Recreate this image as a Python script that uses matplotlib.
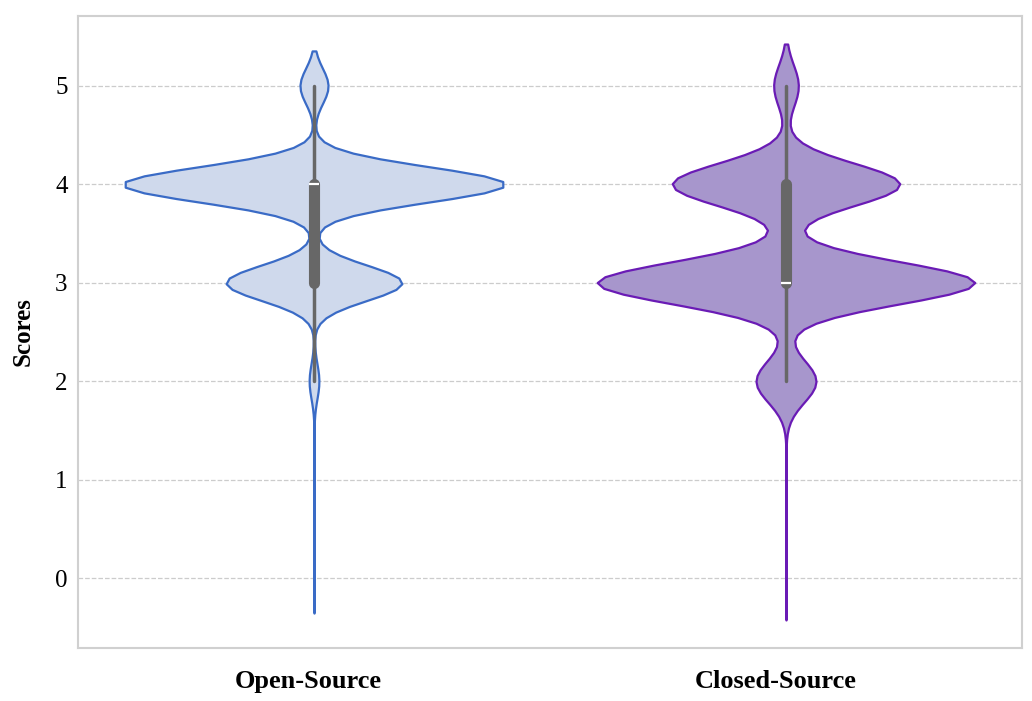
import numpy as np
import pandas as pd
import matplotlib
matplotlib.use("Agg")
import matplotlib.pyplot as plt
import matplotlib.transforms as mtransforms
import seaborn as sns

# ---- data (score counts) ----
categories = ["Open-Source", "Closed-Source"]
score_values = [0, 1, 2, 3, 4, 5]
open_counts = [1, 0, 24, 432, 939, 69]
closed_counts = [1, 0, 102, 642, 387, 42]
y_ticks = [0, 1, 2, 3, 4, 5]

fill_colors = ["#cfd9ec", "#a796cc"]
edge_colors = ["#3a6bc6", "#6a1bb5"]
kde_bandwidths = [0.178, 0.213]

sns.set_theme(style="whitegrid")
plt.rcParams["font.family"] = ["Liberation Serif", "DejaVu Serif"]
plt.rcParams["text.color"] = "black"
plt.rcParams["axes.labelcolor"] = "black"
plt.rcParams["xtick.color"] = "black"
plt.rcParams["ytick.color"] = "black"

fig = plt.figure(figsize=(10.32, 7.01), dpi=100)
ax = fig.add_axes([0.0756, 0.0756, 0.9147, 0.9016])

for cat, counts, fc, ec, bw in zip(categories, [open_counts, closed_counts],
                                   fill_colors, edge_colors, kde_bandwidths):
    vals = np.repeat(score_values, counts).astype(float)
    sub = pd.DataFrame({"Group": cat, "Scores": vals})
    n_before = len(ax.collections)
    sns.violinplot(data=sub, x="Group", y="Scores", order=categories,
                   color=fc, saturation=1, inner="box", density_norm="width",
                   linewidth=1.6, bw_method=bw / np.std(vals, ddof=1),
                   inner_kws=dict(box_width=8, whis_width=2.5, color="#676767"),
                   ax=ax)
    for c in ax.collections[n_before:]:
        if isinstance(c, matplotlib.collections.PolyCollection):
            c.set_facecolor(fc)
            c.set_edgecolor(ec)
            c.set_linewidth(1.6)

ax.set_xlim(-0.5, 1.5)
ax.set_ylim(-0.711, 5.711)
ax.set_yticks(y_ticks)
ax.set_yticklabels([str(t) for t in y_ticks], fontsize=18)
ax.set_xticks(range(len(categories)))
ax.set_xticklabels(categories, fontsize=19, fontweight="bold")
ax.set_xlabel("")
ax.set_ylabel("Scores", fontsize=18, fontweight="bold", labelpad=15)

ax.xaxis.grid(False)
ax.yaxis.grid(True, linestyle="--", color="#cccccc", linewidth=0.9)
ax.set_axisbelow(True)
ax.tick_params(axis="x", length=0, pad=15.5)
ax.tick_params(axis="y", length=0, pad=7.5)
for lbl, dx in zip(ax.get_xticklabels(), [-6, -10]):
    lbl.set_transform(lbl.get_transform() +
                      mtransforms.ScaledTranslation(dx / 100, 0, fig.dpi_scale_trans))
for s in ax.spines.values():
    s.set_color("#d0d0d0")
    s.set_linewidth(1.5)

fig.savefig("out.png", dpi=100, facecolor="white")
